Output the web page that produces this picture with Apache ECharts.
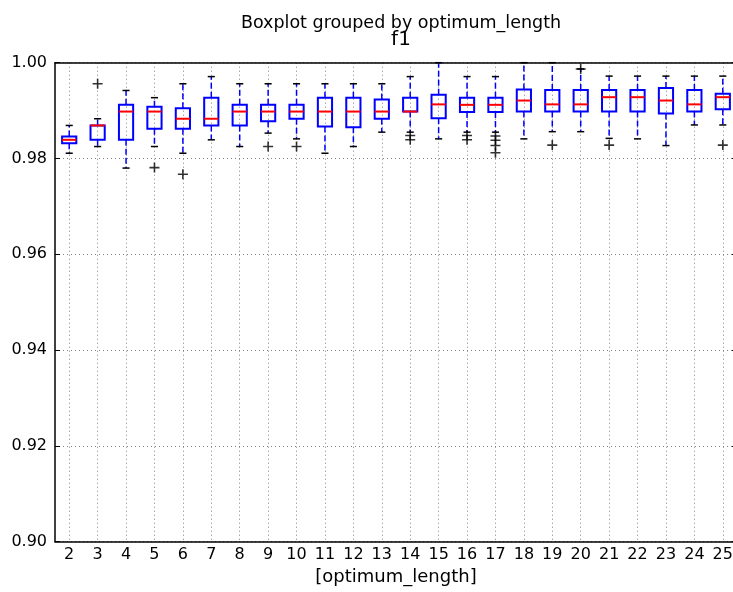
<!DOCTYPE html>
<html>
<head>
<meta charset="utf-8">
<script src="https://cdn.jsdelivr.net/npm/echarts@6/dist/echarts.min.js"></script>
<style>html,body{margin:0;padding:0;background:#fff;}#c{width:733px;height:592px;}</style>
</head>
<body>
<div id="c"></div>
<script>
const categories = ['2','3','4','5','6','7','8','9','10','11','12','13','14','15','16','17','18','19','20','21','22','23','24','25'];
const lowWhisker = [0.9811,0.9825,0.9780,0.9825,0.9811,0.9839,0.9825,0.9853,0.9841,0.9811,0.9825,0.9855,0.9855,0.9841,0.9855,0.9855,0.9841,0.9856,0.9856,0.9842,0.9841,0.9827,0.9870,0.9870];
const q1 = [0.9832,0.9839,0.9839,0.9862,0.9862,0.9869,0.9869,0.9878,0.9883,0.9867,0.9865,0.9883,0.9898,0.9884,0.9897,0.9897,0.9898,0.9898,0.9898,0.9898,0.9898,0.9894,0.9898,0.9903];
const median = [0.9839,0.9869,0.9898,0.9898,0.9883,0.9883,0.9898,0.9898,0.9898,0.9898,0.9898,0.9898,0.9898,0.9913,0.9912,0.9912,0.9921,0.9913,0.9913,0.9928,0.9928,0.9921,0.9913,0.9928];
const q3 = [0.9846,0.9869,0.9912,0.9908,0.9905,0.9927,0.9912,0.9912,0.9912,0.9927,0.9927,0.9923,0.9927,0.9933,0.9927,0.9927,0.9944,0.9943,0.9943,0.9943,0.9943,0.9947,0.9943,0.9935];
const highWhisker = [0.9869,0.9883,0.9942,0.9927,0.9956,0.9971,0.9956,0.9956,0.9956,0.9956,0.9956,0.9956,0.9971,1.0000,0.9971,0.9971,1.0000,1.0000,0.9987,0.9972,0.9972,0.9972,0.9972,0.9972];
const outliers = [
  ['3',0.9956],['5',0.9781],['6',0.9767],['9',0.9825],['10',0.9825],
  ['14',0.9848],['14',0.9839],['16',0.9848],['16',0.9839],
  ['17',0.9847],['17',0.9838],['17',0.9827],['17',0.9812],
  ['19',0.9828],['20',0.9987],['21',0.9828],['25',0.9828]
];
const yTicks = [0.90,0.92,0.94,0.96,0.98,1.00];

const boxData = categories.map((c,i)=>[i, lowWhisker[i], q1[i], median[i], q3[i], highWhisker[i]]);
const outlierData = outliers.map(o=>[categories.indexOf(o[0]), o[1]]);

const chart = echarts.init(document.getElementById('c'), null, {renderer:'canvas'});
const FONT = 'DejaVu Sans';
const gridLine = {show:true, alignWithLabel:true, lineStyle:{color:'#808080', width:1, type:[1,3]}};

chart.setOption({
  animation:false,
  backgroundColor:'#fff',
  title:[
    {text:'Boxplot grouped by optimum_length', left:396, top:9, textAlign:'center',
     textStyle:{fontFamily:FONT, fontSize:17.5, fontWeight:'normal', color:'#000'}},
    {text:'f1', left:396, top:25, textAlign:'center',
     textStyle:{fontFamily:FONT, fontSize:20, fontWeight:'normal', color:'#000'}}
  ],
  grid:{left:55, top:62.7, width:682, height:479, containLabel:false, outerBoundsMode:'none'},
  xAxis:[
    {type:'category', data:categories, position:'bottom',
     name:'[optimum_length]', nameLocation:'middle', nameGap:27,
     nameTextStyle:{fontFamily:FONT, fontSize:18, color:'#000'},
     axisLine:{lineStyle:{color:'#000', width:1.5}},
     axisTick:{inside:true, alignWithLabel:true, length:5, lineStyle:{color:'#000'}},
     axisLabel:{fontFamily:FONT, fontSize:16, color:'#000', margin:5, interval:0},
     splitLine:gridLine},
    {type:'category', data:categories, position:'top',
     axisLine:{lineStyle:{color:'#000', width:1.5}},
     axisTick:{inside:true, alignWithLabel:true, length:5, lineStyle:{color:'#000'}},
     axisLabel:{show:false}, splitLine:{show:false}}
  ],
  yAxis:[
    {type:'value', min:0.90, max:1.00, interval:0.02, position:'left',
     axisLine:{show:true, lineStyle:{color:'#000', width:1.5}},
     axisTick:{show:true, inside:true, length:5, lineStyle:{color:'#000'}},
     axisLabel:{fontFamily:FONT, fontSize:16, color:'#000', margin:8,
       formatter:v=>{ const t = yTicks.find(x=>Math.abs(x-v)<1e-9); return (t!==undefined?t:v).toFixed(2);} },
     splitLine:{show:true, lineStyle:{color:'#808080', width:1, type:[1,3]}}},
    {type:'value', min:0.90, max:1.00, interval:0.02, position:'right',
     axisLine:{show:true, lineStyle:{color:'#000', width:1.5}},
     axisTick:{show:true, inside:true, length:5}, axisLabel:{show:false}, splitLine:{show:false}}
  ],
  series:[
    {type:'custom', xAxisIndex:0, yAxisIndex:0, data:boxData, clip:false, z:3,
     renderItem:function(params, api){
       const x = api.value(0);
       const lo = api.coord([x, api.value(1)]);
       const b1 = api.coord([x, api.value(2)]);
       const md = api.coord([x, api.value(3)]);
       const b3 = api.coord([x, api.value(4)]);
       const hi = api.coord([x, api.value(5)]);
       const bw = api.size([1,0])[0]*0.5;
       const cx = lo[0];
       const hw = bw/2, cw = bw/4;
       return {type:'group', children:[
         {type:'line', shape:{x1:cx,y1:b3[1],x2:cx,y2:hi[1]}, style:{stroke:'#0000ff', lineWidth:1.5, lineDash:[6,3]}},
         {type:'line', shape:{x1:cx,y1:b1[1],x2:cx,y2:lo[1]}, style:{stroke:'#0000ff', lineWidth:1.5, lineDash:[6,3]}},
         {type:'line', shape:{x1:cx-cw,y1:hi[1],x2:cx+cw,y2:hi[1]}, style:{stroke:'#000', lineWidth:1.5}},
         {type:'line', shape:{x1:cx-cw,y1:lo[1],x2:cx+cw,y2:lo[1]}, style:{stroke:'#000', lineWidth:1.5}},
         {type:'rect', shape:{x:cx-hw, y:b3[1], width:bw, height:b1[1]-b3[1]}, style:{stroke:'#0000ff', fill:null, lineWidth:2}},
         {type:'line', shape:{x1:cx-hw,y1:md[1],x2:cx+hw,y2:md[1]}, style:{stroke:'#ff0000', lineWidth:2}}
       ]};
     }},
    {type:'scatter', xAxisIndex:0, yAxisIndex:0, data:outlierData, z:4,
     symbol:'path://M4.2,0h1.6v4.2h4.2v1.6h-4.2v4.2h-1.6v-4.2h-4.2v-1.6h4.2z',
     symbolSize:10, itemStyle:{color:'#000'}}
  ]
});
</script>
</body>
</html>
